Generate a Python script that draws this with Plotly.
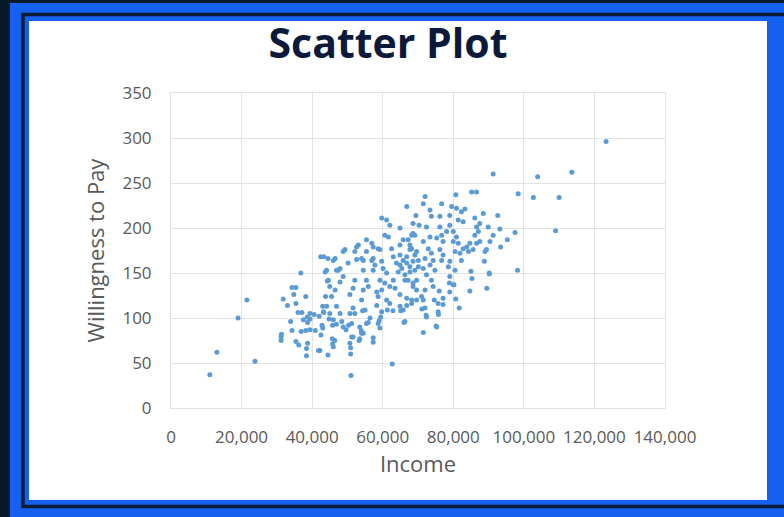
import plotly.graph_objects as go

# Income (USD) and willingness to pay
income = [
    11000, 13000, 19000, 21500, 23800, 51000, 62700, 123300, 113600, 103900,
    102700, 110000, 109000, 91300, 98400, 97500, 93400, 93200, 92600, 95300,
    98200, 90200, 88800, 85200, 86600, 80700, 81700, 80700, 84700, 89500,
    80200, 85300, 90200, 85000,
    31200, 31200, 31300, 31800, 33000, 34300, 35400, 34800, 35400, 36800,
    38200, 36000, 37100, 33900, 34300, 35400, 36200, 36900, 38200, 38600,
    38700, 38400, 38400, 38700, 39400, 40900, 41800, 42500, 40600, 39400,
    42000, 43000, 43300, 42800, 43000, 44500, 45700, 44800, 43800, 44300,
    43700, 42400, 43300, 44500,
    71500, 75100, 75800, 72300, 66000, 77100, 71100, 68200, 71500, 74600,
    76000, 79000, 78900, 65100, 62900, 61300, 59000, 59400, 57300, 57300,
    55900, 54500, 53900, 53300, 51200, 50900, 50900, 46400, 45800, 49600,
    50300, 54300, 52100, 46900, 45800,
    66800, 69400, 62000, 64900, 60600, 61600, 68600, 65800, 67700, 62500,
    58700, 48800, 52600, 52100, 55400, 46000, 47400, 50200, 52600, 54500,
    54500, 56900, 57800, 57300, 59700, 60100, 61100, 63000, 63900, 64900,
    65400, 64400, 66300, 67200, 68600, 69600, 63000, 62000, 63500, 60600,
    59200, 59700, 64900, 61100, 62000, 64900, 65800, 66300, 58300, 58700,
    58300, 59700, 58700, 59200, 55400, 55900, 54500, 54000, 55000, 56400,
    55400, 52100, 51600, 50700, 51600, 50700, 51200, 53500, 54000, 53500,
    51600, 48800, 47900, 46500, 45500, 46900, 47900, 48400, 48800, 46000,
    45000, 44100, 43200, 44600, 45000, 44100, 50700, 46000, 42200, 37500,
    39400, 55400, 56900, 59200, 64900, 65800, 66800, 67700, 69100, 67700,
    69100, 70100, 66800, 68200, 69600, 59700, 61100,
    72000, 71500, 76700, 79500, 80900, 82300, 83300, 73800, 76200, 79000,
    81400, 82800, 86100, 87500, 88500, 89900, 91300, 90400, 89000, 89400,
    86600, 87100, 86100, 86600, 87500, 85600, 84300, 84700, 83800, 82800,
    79000, 78100, 80000, 80900, 80000, 81400, 80500, 81900, 82300, 76200,
    76700, 75300, 77100, 76200, 77100, 76700, 79000, 78600, 80500, 79000,
    80000, 77100, 75700, 72400, 73400, 71500, 72900, 73800, 72000, 74300,
    73400, 71500, 74800, 72400, 73800, 74300, 72000, 68600, 69100, 67200,
    68200, 69600, 66800, 68600, 70100, 67700, 66300, 69600, 68600, 71000,
    72000, 75700, 66800, 72400, 75300,
    73400, 70300, 68200, 53100, 49300, 57300, 46500, 54000, 57300, 64900,
    46900, 47900,
]
willingness = [
    37, 62, 100, 120, 52, 36, 49, 296, 262, 257,
    234, 234, 197, 260, 238, 195, 179, 199, 214, 187,
    153, 150, 163, 240, 240, 237, 111, 121, 130, 133,
    137, 144, 149, 152,
    79, 75, 82, 121, 114, 134, 134, 126, 116, 150,
    124, 106, 106, 96, 86, 74, 70, 85, 86, 101,
    95, 66, 58, 72, 87, 86, 64, 81, 104, 99,
    102, 113, 106, 92, 89, 59, 77, 99, 124, 141,
    151, 168, 168, 166,
    84, 91, 104, 103, 95, 115, 110, 120, 120, 120,
    130, 129, 139, 108, 108, 109, 97, 101, 78, 73,
    95, 83, 86, 75, 79, 67, 60, 75, 71, 87,
    92, 108, 105, 93, 92,
    224, 214, 203, 200, 192, 190, 194, 187, 181, 177,
    177, 174, 179, 174, 174, 164, 153, 161, 165, 164,
    153, 164, 159, 153, 163, 155, 150, 168, 161, 159,
    155, 151, 148, 142, 139, 131, 142, 135, 133, 139,
    142, 131, 126, 120, 116, 113, 109, 96, 129, 124,
    114, 107, 94, 89, 142, 135, 131, 120, 109, 100,
    94, 142, 133, 126, 111, 105, 94, 90, 83, 77,
    79, 146, 140, 131, 124, 113, 105, 96, 90, 98,
    105, 113, 107, 142, 135, 153, 72, 68, 64, 98,
    105, 187, 183, 176, 170, 164, 161, 157, 153, 176,
    170, 164, 122, 116, 120, 211, 209,
    235, 227, 227, 224, 222, 218, 221, 213, 213, 214,
    209, 207, 211, 205, 216, 201, 192, 185, 174, 176,
    201, 196, 192, 183, 185, 176, 174, 183, 179, 177,
    203, 196, 196, 190, 185, 183, 174, 172, 164, 201,
    192, 189, 185, 176, 170, 164, 163, 157, 153, 146,
    137, 122, 116, 201, 190, 185, 177, 172, 166, 164,
    159, 155, 153, 148, 142, 135, 131, 205, 192, 187,
    177, 174, 168, 163, 157, 151, 142, 142, 135, 124,
    111, 107, 114, 101, 90,
    220, 203, 192, 181, 176, 179, 166, 166, 166, 181,
    153, 155,
]

W, H = 784, 517
L, R, T, B = 171, 665, 93, 408


def px(x):
    return (x - L) / (R - L)


def py(y):
    return (B - y) / (B - T)


fig = go.Figure()

fig.add_trace(go.Scatter(
    x=income,
    y=willingness,
    mode='markers',
    marker=dict(size=5, color='#5b9bd5', line=dict(width=0)),
    showlegend=False
))

# slide frame: blue border, thin dark line, white card
shapes = [
    dict(type='rect', xref='paper', yref='paper', layer='below',
         x0=px(10), x1=px(800), y0=py(3), y1=py(530),
         fillcolor='#1660f0', line=dict(width=0)),
    dict(type='rect', xref='paper', yref='paper', layer='below',
         x0=px(23), x1=px(800), y0=py(14.5), y1=py(506.5),
         fillcolor='rgba(0,0,0,0)', line=dict(color='#0b1d33', width=3.5)),
    dict(type='rect', xref='paper', yref='paper', layer='below',
         x0=px(29), x1=px(767), y0=py(21), y1=py(500),
         fillcolor='white', line=dict(width=0)),
]

tick_font = dict(family='Open Sans', size=17, color='#595959')
title_font = dict(family='Open Sans', size=22, color='#595959')

fig.update_layout(
    width=W,
    height=H,
    margin=dict(l=L, r=W - R, t=T, b=H - B),
    paper_bgcolor='#071a2c',
    plot_bgcolor='white',
    shapes=shapes,
    title=dict(
        text='<b>Scatter Plot</b>',
        x=388 / W, xref='container', xanchor='center',
        y=1 - 44 / H, yanchor='middle',
        font=dict(family='Open Sans', size=41, color='#0b1a3a')
    ),
    xaxis=dict(
        range=[0, 140000],
        dtick=20000,
        tickformat=',d',
        showgrid=True,
        gridcolor='#e3e3e3',
        gridwidth=1,
        showline=True,
        linecolor='#e3e3e3',
        mirror=True,
        zeroline=False,
        ticks='',
        ticklabelstandoff=14,
        tickfont=tick_font,
        title=dict(text='Income', font=title_font, standoff=8),
        automargin=False,
        fixedrange=True
    ),
    yaxis=dict(
        range=[0, 350],
        dtick=50,
        showgrid=True,
        gridcolor='#e3e3e3',
        gridwidth=1,
        showline=True,
        linecolor='#e3e3e3',
        mirror=True,
        zeroline=False,
        ticks='',
        ticklabelstandoff=15,
        tickfont=tick_font,
        title=dict(text='Willingness to Pay', font=title_font, standoff=11),
        automargin=False,
        fixedrange=True
    )
)

fig.write_html(
    'out.html',
    config={'displayModeBar': False},
    post_script="document.body.style.margin='0';"
)
